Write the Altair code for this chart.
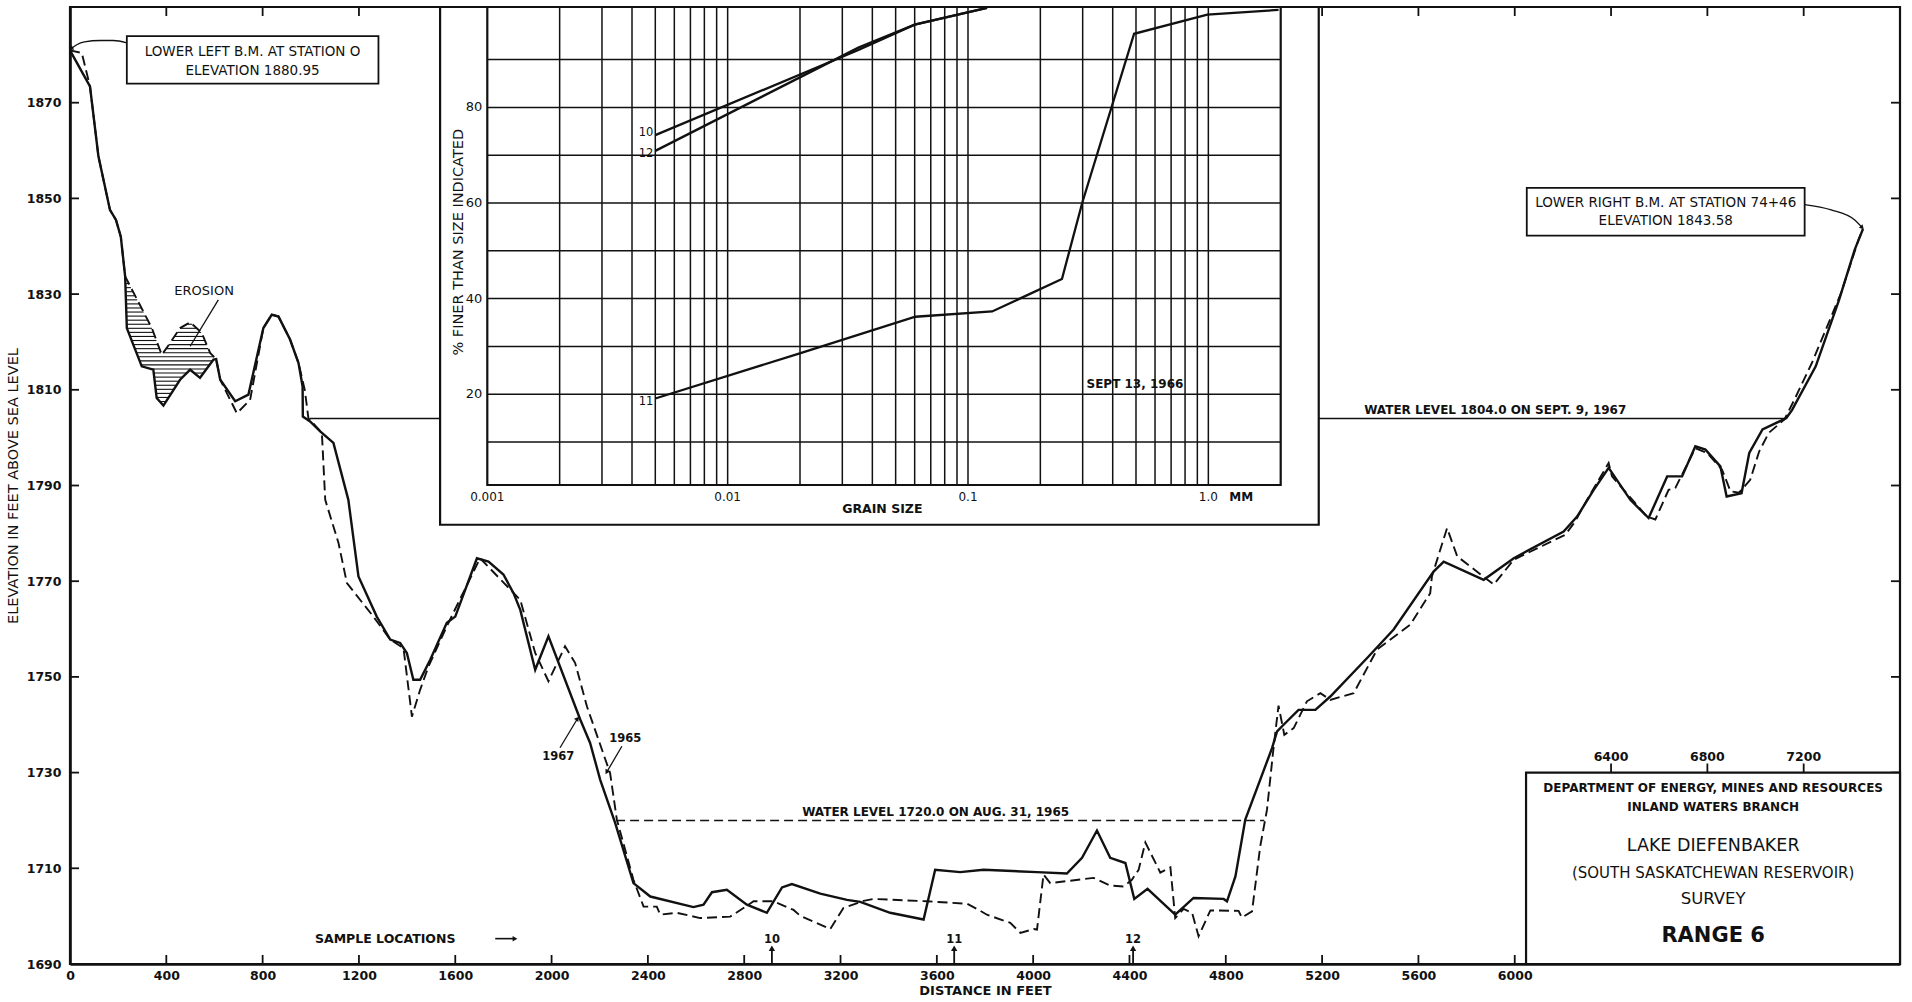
import altair as alt
import numpy as np
import pandas as pd

# ---------------------------------------------------------------
# Lake Diefenbaker, Range 6 cross-section survey
# distance from Station 0 (feet) and elevation (feet above sea level)
# ---------------------------------------------------------------
dist_1967 = [0, 83, 118, 166, 191, 211, 229, 236, 298, 346, 360, 388, 457, 499, 540,
             596, 607, 624, 686, 741, 803, 838, 866, 914, 949, 966, 967, 997, 1039,
             1094, 1156, 1198, 1274, 1330, 1371, 1399, 1426, 1454, 1496, 1565, 1600,
             1690, 1738, 1800, 1842, 1870, 1932, 1987, 2119, 2160, 2202, 2264, 2340,
             2410, 2589, 2631, 2666, 2728, 2811, 2894, 2957, 2998, 3116, 3227, 3282,
             3406, 3545, 3593, 3697, 3794, 4016, 4140, 4203, 4265, 4320, 4383, 4420,
             4475, 4590, 4666, 4791, 4805, 4840, 4881, 4992, 5013, 5040, 5102, 5172,
             5234, 5386, 5497, 5663, 5705, 5871, 5996, 6203, 6259, 6328, 6390, 6480,
             6556, 6633, 6695, 6750, 6792, 6854, 6880, 6942, 6974, 7029, 7128, 7152,
             7250, 7347, 7412, 7446]
elev_1967 = [1880.95, 1873.4, 1858.8, 1847.6, 1845.5, 1842.0, 1833.7, 1822.9, 1814.9,
             1814.2, 1808.3, 1806.7, 1812.1, 1814.2, 1812.5, 1816.3, 1816.4, 1812.1,
             1807.6, 1809.0, 1822.9, 1825.7, 1825.3, 1820.5, 1815.6, 1810.7, 1804.4,
             1803.4, 1801.3, 1798.9, 1787.0, 1771.0, 1762.6, 1757.8, 1757.1, 1755.0,
             1749.4, 1749.4, 1753.6, 1761.3, 1762.6, 1774.8, 1774.1, 1771.4, 1767.5,
             1764.0, 1751.5, 1758.5, 1741.1, 1736.2, 1728.5, 1719.5, 1706.9, 1704.1,
             1701.9, 1702.4, 1705.0, 1705.5, 1702.4, 1700.7, 1706.0, 1706.7, 1704.7,
             1703.4, 1703.0, 1700.7, 1699.3, 1709.7, 1709.2, 1709.7, 1709.2, 1708.9,
             1712.2, 1717.9, 1712.2, 1711.1, 1703.6, 1705.7, 1700.3, 1703.8, 1703.6,
             1703.1, 1708.3, 1720.2, 1735.1, 1738.6, 1740.0, 1743.1, 1743.1, 1745.9,
             1753.9, 1759.9, 1772.0, 1774.1, 1770.3, 1774.8, 1780.4, 1783.5, 1789.1,
             1793.7, 1787.0, 1783.2, 1791.9, 1791.9, 1798.2, 1797.5, 1794.0, 1787.7,
             1788.4, 1796.8, 1801.7, 1804.1, 1805.8, 1814.9, 1828.8, 1839.3, 1843.58]

dist_1965 = [0, 49, 83, 118, 166, 191, 211, 229, 340, 381, 416, 457, 499, 547, 582, 607,
             624, 693, 748, 803, 838, 866, 914, 949, 975, 990, 1046, 1060, 1115, 1150,
             1260, 1330, 1385, 1420, 1454, 1489, 1565, 1703, 1870, 1932, 1987, 2056,
             2098, 2147, 2243, 2271, 2340, 2382, 2437, 2451, 2520, 2617, 2742, 2839,
             2922, 3005, 3032, 3157, 3212, 3296, 3337, 3559, 3725, 3767, 3808, 3905,
             3947, 4002, 4016, 4043, 4071, 4251, 4320, 4375, 4410, 4438, 4466, 4528,
             4570, 4590, 4625, 4660, 4687, 4736, 4853, 4867, 4909, 4943, 4971, 4999,
             5019, 5043, 5082, 5137, 5193, 5234, 5331, 5428, 5566, 5649, 5656, 5719,
             5761, 5913, 5996, 6210, 6251, 6300, 6390, 6404, 6549, 6584, 6639, 6667,
             6750, 6799, 6861, 6896, 6931, 6978, 7015, 7055, 7120, 7161, 7234, 7355,
             7428, 7446]
elev_1965 = [1880.95, 1880.4, 1873.4, 1858.8, 1847.6, 1845.5, 1842.0, 1833.7, 1822.9,
             1817.3, 1819.8, 1822.9, 1824.1, 1821.9, 1817.7, 1816.4, 1812.1, 1805.1,
             1807.9, 1822.9, 1825.7, 1825.3, 1820.5, 1815.6, 1810.0, 1804.1, 1801.0,
             1787.0, 1778.0, 1769.6, 1762.6, 1757.8, 1756.0, 1741.7, 1747.3, 1752.2,
             1760.6, 1774.8, 1766.1, 1755.0, 1749.1, 1756.4, 1752.9, 1743.8, 1729.9,
             1720.2, 1707.6, 1702.0, 1702.0, 1700.3, 1700.7, 1699.6, 1699.9, 1703.1,
             1703.1, 1701.3, 1700.1, 1697.3, 1701.7, 1703.2, 1703.6, 1703.1, 1702.6,
             1701.5, 1700.3, 1698.6, 1696.5, 1697.3, 1697.2, 1708.7, 1706.9, 1708.0,
             1706.4, 1706.2, 1707.6, 1709.7, 1715.4, 1709.1, 1710.2, 1699.6, 1701.5,
             1700.7, 1695.8, 1701.2, 1701.1, 1699.7, 1701.0, 1714.6, 1722.2, 1735.5,
             1744.0, 1737.9, 1739.3, 1744.9, 1746.6, 1745.2, 1746.6, 1755.7, 1760.9,
             1767.5, 1771.0, 1781.1, 1775.2, 1769.3, 1774.5, 1779.7, 1782.5, 1787.0,
             1794.7, 1791.9, 1783.5, 1782.9, 1789.1, 1789.5, 1797.8, 1796.8, 1793.3,
             1788.8, 1788.5, 1791.2, 1797.1, 1801.0, 1803.8, 1807.9, 1815.6, 1830.2,
             1841.4, 1843.58]

# water levels (elevation, start and end distance)
water_1967 = [1804.0, 997, 7128]
water_1965 = [1720.0, 2268, 4960]

# bed-material sample locations
sample_ids = ["10", "11", "12"]
sample_dist = [2915, 3672, 4415]

# grain size analysis, Sept 13 1966 (mm, % finer)
grain_10_mm = [0.005, 0.035, 0.06, 0.12]
grain_10_pct = [74.2, 92.0, 97.3, 100.8]
grain_12_mm = [0.005, 0.035, 0.06, 0.12]
grain_12_pct = [70.9, 92.5, 97.3, 100.8]
grain_11_mm = [0.005, 0.0198, 0.0604, 0.126, 0.246, 0.299, 0.491, 0.99, 1.96]
grain_11_pct = [19.1, 28.5, 36.2, 37.3, 44.1, 60.1, 95.4, 99.4, 100.4]

# axis values
dist_ticks = list(range(0, 6001, 400))
top_ticks = list(range(400, 7201, 400))
upper_ticks = [6400, 6800, 7200]
elev_ticks = list(range(1690, 1871, 20))
grain_lines = [m * 10.0 ** e for e in (-3, -2, -1) for m in range(2, 11)]
grain_labels = ["0.001", "0.01", "0.1", "1.0"]
grain_label_mm = [0.001, 0.01, 0.1, 1.0]
pct_labels = [20, 40, 60, 80]
pct_lines = [10, 20, 30, 40, 50, 60, 70, 80, 90]

# ---------------------------------------------------------------
BLACK = "#111111"
W, H = 1830, 957

xs = alt.Scale(domain=[0, 7600], nice=False, zero=False)
ys = alt.Scale(domain=[1690, 1890], nice=False, zero=False)

x_axis = alt.Axis(values=dist_ticks, format="d", title="DISTANCE IN FEET", ticks=False,
                  tickSize=0, grid=False, labelPadding=5, labelFontSize=12.5,
                  labelFontWeight="bold", labelFlush=False, labelOverlap=False,
                  labelColor=BLACK, domainColor=BLACK, domainWidth=2.6,
                  titleFontSize=13, titleFontWeight="bold", titleColor=BLACK,
                  titlePadding=3)
y_axis = alt.Axis(values=elev_ticks, format="d",
                  title="ELEVATION IN FEET ABOVE SEA LEVEL", ticks=False, tickSize=0,
                  grid=False, labelPadding=9, labelFontSize=12.5, labelFontWeight="bold",
                  labelFlush=False, labelOverlap=False, labelColor=BLACK,
                  domainColor=BLACK, domainWidth=2.6, titleFontSize=14.5,
                  titleFontWeight="normal", titleColor=BLACK, titlePadding=6)


def ex(field="ft"):
    return alt.X(f"{field}:Q", scale=xs, axis=x_axis)


def ey(field="elev"):
    return alt.Y(f"{field}:Q", scale=ys, axis=y_axis)


def note(text, ft, elev, size=12, bold=False, align="center", dx=0, dy=0):
    df = pd.DataFrame({"ft": [ft], "elev": [elev], "label": [text]})
    return alt.Chart(df).mark_text(
        fontSize=size, fontWeight="bold" if bold else "normal", align=align,
        baseline="middle", dx=dx, dy=dy, color=BLACK
    ).encode(x=ex(), y=ey(), text="label:N")


def box(ft1, ft2, e1, e2, width=2.0):
    df = pd.DataFrame({"ft": [ft1], "ft2": [ft2], "elev": [e1], "elev2": [e2]})
    return alt.Chart(df).mark_rect(fill="white", stroke=BLACK, strokeWidth=width).encode(
        x=ex(), x2="ft2:Q", y=ey(), y2="elev2:Q")


def leader(fts, elevs, width=1.3, curve="linear"):
    df = pd.DataFrame({"ft": fts, "elev": elevs, "k": range(len(fts))})
    return alt.Chart(df).mark_line(color=BLACK, strokeWidth=width, interpolate=curve).encode(
        x=ex(), y=ey(), order="k:Q")


def head(ft, elev, angle, size=28):
    df = pd.DataFrame({"ft": [ft], "elev": [elev]})
    return alt.Chart(df).mark_point(shape="triangle-up", filled=True, size=size,
                                    angle=angle, color=BLACK, opacity=1).encode(x=ex(), y=ey())


# ---- tick marks drawn inside the frame ----
ticks_bottom = alt.Chart(pd.DataFrame({"ft": dist_ticks[1:]})).mark_rule(
    color=BLACK, strokeWidth=1.8).encode(x=ex(), y=alt.value(H), y2=alt.value(H - 9))
ticks_top = alt.Chart(pd.DataFrame({"ft": top_ticks})).mark_rule(
    color=BLACK, strokeWidth=1.8).encode(x=ex(), y=alt.value(0), y2=alt.value(9))
ticks_left = alt.Chart(pd.DataFrame({"elev": elev_ticks[1:]})).mark_rule(
    color=BLACK, strokeWidth=1.8).encode(y=ey(), x=alt.value(0), x2=alt.value(9))
ticks_right = alt.Chart(pd.DataFrame({"elev": elev_ticks[1:]})).mark_rule(
    color=BLACK, strokeWidth=1.8).encode(y=ey(), x=alt.value(W), x2=alt.value(W - 9))

# ---- water levels ----
wl67 = alt.Chart(pd.DataFrame({"ft": [water_1967[1]], "ft2": [water_1967[2]],
                               "elev": [water_1967[0]]})).mark_rule(
    color=BLACK, strokeWidth=1.5).encode(x=ex(), x2="ft2:Q", y=ey())
wl65 = alt.Chart(pd.DataFrame({"ft": [water_1965[1]], "ft2": [water_1965[2]],
                               "elev": [water_1965[0]]})).mark_rule(
    color=BLACK, strokeWidth=1.6, strokeDash=[9, 5]).encode(x=ex(), x2="ft2:Q", y=ey())

# ---- erosion hatching between the two surveys ----
grid = np.arange(229.0, 612.0, 0.5)
upper = np.interp(grid, dist_1965, elev_1965)
lower = np.interp(grid, dist_1967, elev_1967)
hatch_rows = []
for level in np.arange(1805.0, 1834.0, 0.85):
    inside = ((lower < level) & (upper > level)).astype(int)
    edges = np.flatnonzero(np.diff(np.concatenate([[0], inside, [0]])))
    for s, e in zip(edges[::2], edges[1::2]):
        hatch_rows.append({"ft": grid[s], "ft2": grid[e - 1], "elev": level})
hatch = alt.Chart(pd.DataFrame(hatch_rows)).mark_rule(
    color=BLACK, strokeWidth=1.1).encode(x=ex(), x2="ft2:Q", y=ey())

# ---- profiles ----
prof65 = alt.Chart(pd.DataFrame({"ft": dist_1965, "elev": elev_1965})).mark_line(
    color=BLACK, strokeWidth=1.9, strokeDash=[10, 5]).encode(x=ex(), y=ey())
prof67 = alt.Chart(pd.DataFrame({"ft": dist_1967, "elev": elev_1967})).mark_line(
    color=BLACK, strokeWidth=2.4).encode(x=ex(), y=ey())

# ---- sample locations ----
samples = pd.DataFrame({"ft": sample_dist, "elev": [1690] * 3, "elev2": [1693.0] * 3,
                        "tip": [1693.3] * 3, "lab": [1695.1] * 3, "id": sample_ids})
sample_stems = alt.Chart(samples).mark_rule(color=BLACK, strokeWidth=1.8).encode(
    x=ex(), y=ey(), y2="elev2:Q")
sample_heads = alt.Chart(samples).mark_point(shape="triangle-up", filled=True, size=40,
                                             color=BLACK, opacity=1).encode(
    x=ex(), y=ey("tip"))
sample_text = alt.Chart(samples).mark_text(fontSize=11.5, fontWeight="bold", color=BLACK,
                                           baseline="middle").encode(
    x=ex(), y=ey("lab"), text="id:N")

title_lines = [
    ("DEPARTMENT OF ENERGY, MINES AND RESOURCES", 1726.8, 12, True),
    ("INLAND WATERS BRANCH", 1722.8, 12, True),
    ("LAKE DIEFENBAKER", 1714.6, 17.5, False),
    ("(SOUTH SASKATCHEWAN RESERVOIR)", 1709.0, 15, False),
    ("SURVEY", 1703.6, 16.5, False),
    ("RANGE 6", 1695.8, 21, True),
]

upper_tick_marks = alt.Chart(pd.DataFrame({"ft": upper_ticks, "elev": [1730] * 3,
                                           "elev2": [1731.9] * 3})).mark_rule(
    color=BLACK, strokeWidth=1.8).encode(x=ex(), y=ey(), y2="elev2:Q")
upper_tick_text = alt.Chart(pd.DataFrame({"ft": upper_ticks, "elev": [1733.3] * 3,
                                          "label": [str(v) for v in upper_ticks]})).mark_text(
    fontSize=12.5, fontWeight="bold", color=BLACK, baseline="middle").encode(
    x=ex(), y=ey(), text="label:N")

main_layers = [
    ticks_bottom, ticks_top, ticks_left, ticks_right,
    wl67, wl65, hatch, prof65, prof67,
    sample_stems, sample_heads, sample_text,
    note("SAMPLE LOCATIONS", 1309, 1695.3, 12.5, True),
    leader([1766, 1842], [1695.3, 1695.3], 1.6),
    head(1848, 1695.3, 90, 30),
    # labels for the two surveys
    note("1967", 2028, 1733.3, 11.5, True),
    leader([2035, 2108], [1735.2, 1741.3]),
    head(2108, 1741.3, 39, 30),
    note("1965", 2306, 1737.1, 11.5, True),
    leader([2229, 2292], [1730.1, 1735.5]),
    head(2229, 1730.1, 209, 30),
    note("EROSION", 557, 1830.7, 13),
    leader([499, 616], [1819.1, 1828.8]),
    note("WATER LEVEL 1720.0 ON AUG. 31, 1965", 3595, 1721.8, 12, True),
    note("WATER LEVEL 1804.0 ON SEPT. 9, 1967", 5919, 1805.7, 12, True),
    # bench marks
    leader([5, 28, 60, 125, 180, 236], [1881.3, 1882.1, 1882.7, 1883.0, 1883.0, 1882.5],
           1.3, "monotone"),
    head(4, 1881.3, 242, 26),
    box(236, 1281, 1874.0, 1883.9, 1.8),
    note("LOWER LEFT B.M. AT STATION O", 758, 1880.5, 13.5),
    note("ELEVATION 1880.95", 758, 1876.7, 13.5),
    leader([7204, 7314, 7412, 7443], [1848.7, 1847.6, 1845.5, 1843.9], 1.3, "monotone"),
    head(7443, 1843.9, 137, 26),
    box(6050, 7204, 1842.2, 1852.2, 1.8),
    note("LOWER RIGHT B.M. AT STATION 74+46", 6627, 1849.0, 13.5),
    note("ELEVATION 1843.58", 6627, 1845.2, 13.5),
    # inset panel background
    box(1537, 5186, 1781.8, 1890, 2.2),
    # title block
    box(6047, 7600, 1690, 1730, 2.2),
    upper_tick_marks, upper_tick_text,
] + [note(t, 6824, e, s, b) for t, e, s, b in title_lines]

main = alt.layer(*main_layers)

# ---------------------------------------------------------------
# grain size inset (log paper)
# ---------------------------------------------------------------
gx = alt.Scale(type="log", domain=[0.001, 2.0], range=[417.3, 1210.7], nice=False)
gy = alt.Scale(domain=[1, 101], range=[478, 0], nice=False, zero=False)


def gX(field="mm"):
    return alt.X(f"{field}:Q", scale=gx, axis=None)


def gY(field="pct"):
    return alt.Y(f"{field}:Q", scale=gy, axis=None)


def gnote(text, mm, pct, size=12, bold=False, align="center", dx=0, dy=0, angle=0):
    df = pd.DataFrame({"mm": [mm], "pct": [pct], "label": [text]})
    return alt.Chart(df).mark_text(
        fontSize=size, fontWeight="bold" if bold else "normal", align=align,
        baseline="middle", dx=dx, dy=dy, angle=angle, color=BLACK
    ).encode(x=gX(), y=gY(), text="label:N")


vgrid = alt.Chart(pd.DataFrame({"mm": grain_lines, "pct": [1] * len(grain_lines),
                                "pct2": [101] * len(grain_lines)})).mark_rule(
    color=BLACK, strokeWidth=1.5).encode(x=gX(), y=gY(), y2="pct2:Q")
hgrid = alt.Chart(pd.DataFrame({"mm": [0.001] * len(pct_lines), "mm2": [2.0] * len(pct_lines),
                                "pct": pct_lines})).mark_rule(
    color=BLACK, strokeWidth=1.5).encode(x=gX(), x2="mm2:Q", y=gY())
gframe = alt.Chart(pd.DataFrame({"mm": [0.001], "mm2": [2.0], "pct": [1], "pct2": [101]})).mark_rect(
    fillOpacity=0, stroke=BLACK, strokeWidth=2.2).encode(
    x=gX(), x2="mm2:Q", y=gY(), y2="pct2:Q")


def curve(mm, pct):
    return alt.Chart(pd.DataFrame({"mm": mm, "pct": pct})).mark_line(
        color=BLACK, strokeWidth=2.3).encode(x=gX(), y=gY())


inset_layers = [
    vgrid, hgrid, gframe,
    curve(grain_10_mm, grain_10_pct),
    curve(grain_12_mm, grain_12_pct),
    curve(grain_11_mm, grain_11_pct),
    gnote("10", 0.005, 74.6, 11.5, align="right", dx=-2),
    gnote("12", 0.005, 70.3, 11.5, align="right", dx=-2),
    gnote("11", 0.005, 18.3, 11.5, align="right", dx=-2),
    gnote("SEPT 13, 1966", 0.495, 22.1, 12, True),
    gnote("MM", 1.37, 1, 12, True, dy=12),
    gnote("GRAIN SIZE", 0.044, 1, 12.5, True, dy=24),
    gnote("% FINER THAN SIZE INDICATED", 0.00076, 51.8, 14.5, angle=270),
] + [gnote(t, m, 1, 12, dy=12) for t, m in zip(grain_labels, grain_label_mm)] \
  + [gnote(str(p), 0.001, p, 13, align="right", dx=-5) for p in pct_labels]

inset = alt.layer(*inset_layers)

chart = alt.layer(main, inset).resolve_scale(
    x="independent", y="independent"
).properties(
    width=W, height=H,
    padding={"left": 70, "top": 7, "right": 12, "bottom": 38},
    autosize=alt.AutoSizeParams(type="none"),
).configure(
    font="DejaVu Sans", background="white"
).configure_view(
    stroke=BLACK, strokeWidth=2.2
)

chart.save("out.html", embed_options={"renderer": "svg", "actions": False})
